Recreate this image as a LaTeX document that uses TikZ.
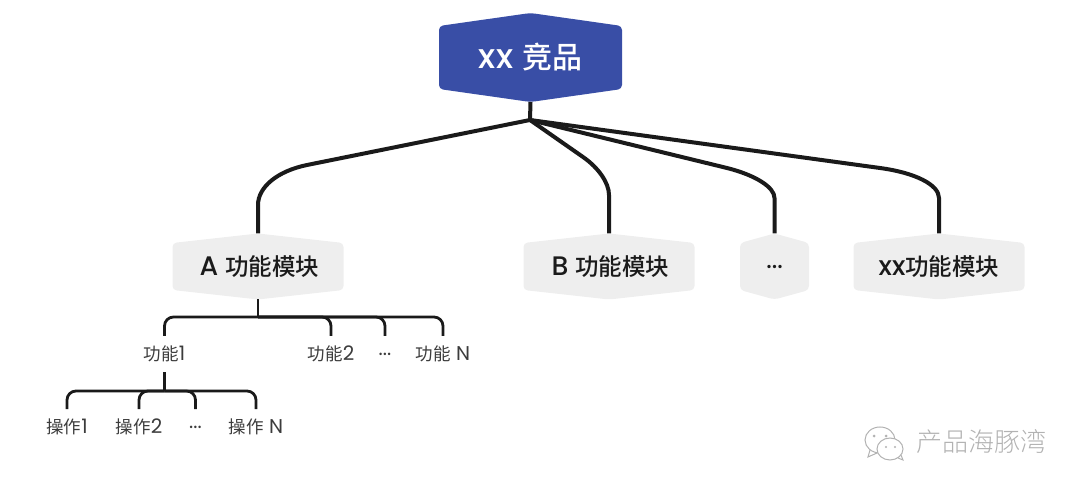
\documentclass[tikz,border=0pt]{standalone}
\usepackage{fontspec}
\setmainfont{Poppins}[BoldFont={Poppins Medium},Scale=1.14]
\newfontfamily\cjk{Noto Sans CJK SC}[BoldFont={Noto Sans CJK SC Medium}]
\newfontfamily\cjklight{Noto Sans CJK SC Light}
\newcommand{\zh}[1]{{\cjk #1}}
\usetikzlibrary{positioning, calc}
\definecolor{rootblue}{RGB}{57,78,166}
\definecolor{modgray}{RGB}{238,238,238}
\definecolor{ink}{RGB}{26,26,26}
\definecolor{wmgray}{RGB}{178,178,178}

\begin{document}
\begin{tikzpicture}[
  x=1pt, y=-1pt,
  hexbox/.style n args={4}{rectangle, inner sep=0pt, outer sep=0pt, minimum width=#1, minimum height=#2,
    align=center, path picture={
      \fill[#4, rounded corners=4pt]
        ([yshift=-#3]path picture bounding box.north west) -- (path picture bounding box.north)
        -- ([yshift=-#3]path picture bounding box.north east) -- ([yshift=#3]path picture bounding box.south east)
        -- (path picture bounding box.south) -- ([yshift=#3]path picture bounding box.south west) -- cycle;}},
  rootbox/.style={hexbox={183pt}{89pt}{13pt}{rootblue}, font=\fontsize{30}{32}\selectfont\bfseries, text=white},
  modbox/.style={hexbox={171pt}{66pt}{9.5pt}{modgray}, font=\fontsize{23.5}{26}\selectfont\bfseries, text=ink},
  dotbox/.style={hexbox={69pt}{66pt}{9.5pt}{modgray}, font=\fontsize{20}{26}\selectfont\bfseries, text=ink},
  leaf/.style={inner sep=0pt, outer sep=0pt, minimum height=36pt, font=\fontsize{17.5}{18}\selectfont, text=ink!85},
  main/.style={line width=4pt, ink},
  sub/.style={line width=2.8pt, ink, rounded corners=9pt}
]
\useasboundingbox (0,0) rectangle (1080,489);

% Top level
\node[rootbox] at (530.5,57.5) (root) {xx \zh{竞品}};
\coordinate (hub) at (530,120);

% Modules
\node[modbox] at (258,266.5) (moda) {\hspace*{3pt}A \zh{功能模块}};
\node[modbox] at (609,266.5) (modb) {\hspace*{3pt}B \zh{功能模块}};
\node[dotbox] at (774.5,266.5) (modd) {...};
\node[modbox] at (939,266.5) (modx) {xx\zh{功能模块}};

% Functions
\node[leaf] at (164.5,354) (fa) {\zh{功能}1};
\node[leaf] at (331,354) (fb) {\zh{功能}2};
\node[leaf] at (385,354) (fd) {...};
\node[leaf] at (443,354) (fn) {\zh{功能} N};

% Operations
\node[leaf] at (67,427) (opa) {\zh{操作}1};
\node[leaf] at (139,427) (opb) {\zh{操作}2};
\node[leaf] at (195.5,427) (opd) {...};
\node[leaf] at (256,427) (opn) {\zh{操作} N};

% Main branches
\draw[main] (root.south) -- (hub);
\foreach \n/\sx/\sy/\ey/\ty in {moda/307/165/175/205, modb/583/157/175/195, modd/727/168/180/198, modx/880/168/176/198}
  \draw[main] (hub) -- (\sx,\sy)
    .. controls ($(\sx,\sy)!0.6!(\n.north |- 0,\ey)$) and ($(\n.north |- 0,\ty)!0.6!(\n.north |- 0,\ey)$)
    .. (\n.north |- 0,\ty) -- (\n.north);

% Function branches
\coordinate (busa) at (258,317);
\coordinate (busb) at (164.5,391);
\draw[sub] (moda.south -| busa) -- (busa);
\foreach \n in {fa, fb, fd, fn}
  \draw[sub] (busa) -- (\n.north |- busa) -- (\n.north);
\draw[sub] (fa.south) -- (busb);
\foreach \n in {opa, opb, opd, opn}
  \draw[sub] (busb) -- (\n.north |- busb) -- (\n.north);

% Watermark
\node[font=\fontsize{26}{28}\selectfont\cjklight, text=wmgray, anchor=west] at (912,442) (wm) {产品海豚湾};
\begin{scope}[wmgray, line width=1pt]
  \draw[fill=white] (880,440) ellipse (15 and 13);
  \draw (870,450) -- (868,457) -- (877,453);
  \draw[fill=white] (890,449) ellipse (13 and 11);
  \draw (898,458) -- (903,460) -- (901,455);
  \fill (874,436) circle (1.5) (886,436) circle (1.5) (886,447) circle (1.2) (895,447) circle (1.2);
\end{scope}
\end{tikzpicture}
\end{document}
